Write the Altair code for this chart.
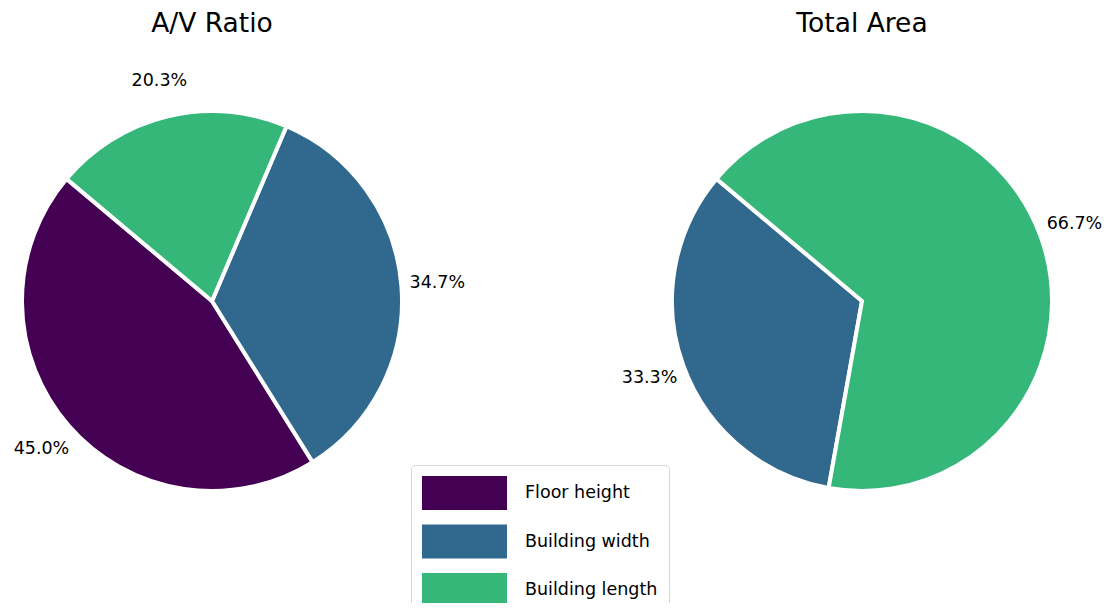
import math
import altair as alt
import pandas as pd

categories = ["Floor height", "Building width", "Building length"]
colors = ["#440154", "#31688e", "#35b779"]
av_values = [45.0, 34.7, 20.3]
area_values = [0.0, 33.3, 66.7]
titles = ["A/V Ratio", "Total Area"]
stack_order = [2, 1, 0]  # clockwise drawing order (matplotlib counterclockwise, startangle 140)

rows = []
for t, vals in zip(titles, [av_values, area_values]):
    for c, v, o in zip(categories, vals, stack_order):
        if v > 0:
            rows.append({"chart": t, "category": c, "value": v, "order": o,
                         "label": f"{v:.1f}%"})
df = pd.DataFrame(rows)

start = math.radians(310)
end = math.radians(670)
FONT = "DejaVu Sans"

theta = alt.Theta("value:Q", stack=True, scale=alt.Scale(range=[start, end]))
order = alt.Order("order:Q")
color = alt.Color(
    "category:N",
    scale=alt.Scale(domain=categories, range=colors),
    legend=alt.Legend(
        title=None, orient="none", legendX=403, legendY=457,
        symbolType="M-1,-1H4V1H-1Z", symbolSize=1156,
        symbolStrokeWidth=0, symbolOpacity=1,
        labelFontSize=17.5, labelFont=FONT, labelColor="black",
        labelOffset=69, rowPadding=14.5, padding=11,
        strokeColor="#d6d6d6", fillColor="white", cornerRadius=4,
        labelLimit=400,
    ),
)

CY = 293
R = 190


def pie(title, cx):
    base = alt.Chart(df).transform_filter(alt.datum.chart == title)
    arc = base.mark_arc(outerRadius=R, stroke="white", strokeWidth=4).encode(
        theta=theta, color=color, order=order,
        x=alt.value(cx), y=alt.value(CY),
    )
    text = base.mark_text(radius=226, fontSize=17.5, font=FONT, color="black").encode(
        theta=theta, order=order, text="label:N",
        x=alt.value(cx), y=alt.value(CY),
    )
    ttl = alt.Chart(pd.DataFrame({"t": [title]})).mark_text(
        fontSize=26.5, font=FONT, color="black", baseline="middle"
    ).encode(text="t:N", x=alt.value(cx), y=alt.value(16))
    return [arc, text, ttl]


layers = pie(titles[0], 204) + pie(titles[1], 854)

chart = alt.layer(*layers).properties(
    width=1098, height=595, autosize=alt.AutoSizeParams(type="none"), padding=0
).configure_view(stroke=None)

chart.save("out.html", embed_options={"renderer": "svg", "actions": False})
